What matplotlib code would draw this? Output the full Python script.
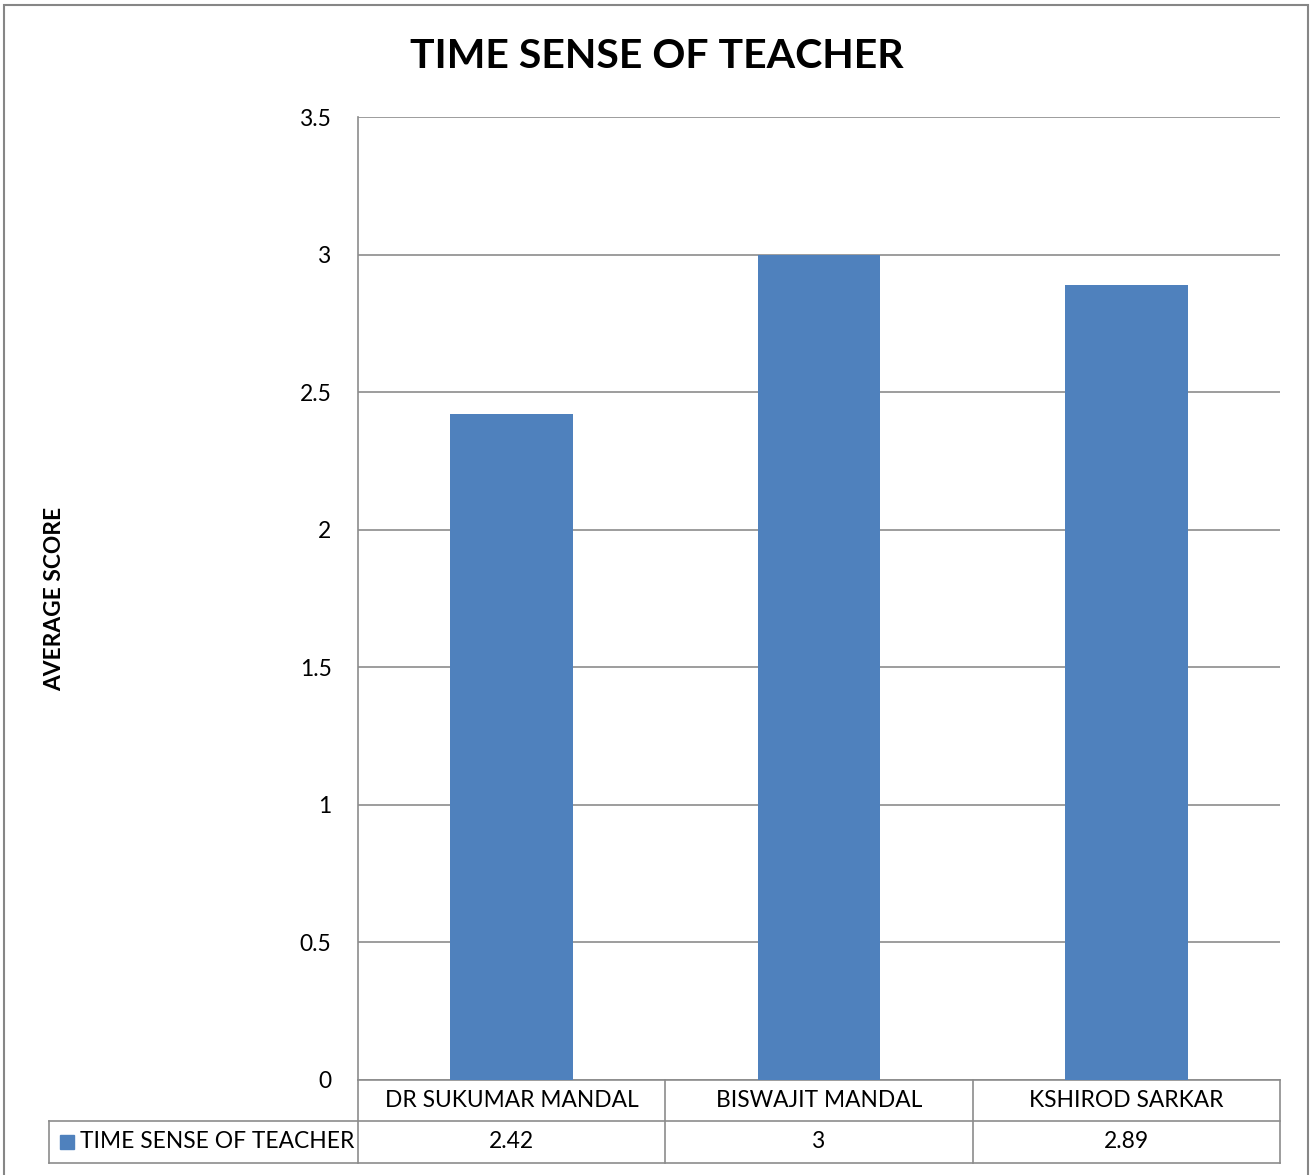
import matplotlib
matplotlib.use("Agg")
import matplotlib.pyplot as plt
from matplotlib.patches import Rectangle
from matplotlib.lines import Line2D
from matplotlib.transforms import blended_transform_factory

# --- Data ---
teachers = ["DR SUKUMAR MANDAL", "BISWAJIT MANDAL", "KSHIROD SARKAR"]
scores = [2.42, 3, 2.89]
score_labels = ["2.42", "3", "2.89"]
series_name = "TIME SENSE OF TEACHER"
y_ticks = [0, 0.5, 1, 1.5, 2, 2.5, 3, 3.5]
y_tick_labels = ["0", "0.5", "1", "1.5", "2", "2.5", "3", "3.5"]

# --- Style ---
BAR_COLOR = "#4F81BD"
GRID_COLOR = "#8C8C8C"
FONT = "Lato"
FS = 16.4
W, H = 1310, 1175

plt.rcParams['font.family'] = [FONT, 'DejaVu Sans']

fig = plt.figure(figsize=(W / 100, H / 100), dpi=100)

# outer chart border
fig.add_artist(Rectangle((4 / W, -0.01), 1304 / W, 1 - 5 / H + 0.01,
                         transform=fig.transFigure, fill=False,
                         edgecolor="#868686", linewidth=1.5))

# plot area in pixel terms
left, right, top, bottom = 358, 1280, 117, 1080
ax = fig.add_axes([left / W, 1 - bottom / H, (right - left) / W, (bottom - top) / H])

x = list(range(len(teachers)))
ax.bar(x, scores, width=0.4, color=BAR_COLOR, zorder=3)
ax.set_xlim(-0.5, len(teachers) - 0.5)
ax.set_ylim(0, 3.5)
ax.set_yticks(y_ticks)
ax.set_yticklabels(y_tick_labels, fontsize=FS)
ax.set_xticks([])
ax.tick_params(axis="y", length=0, pad=19)
ax.yaxis.grid(True, color=GRID_COLOR, linewidth=1.2, zorder=0)
for side in ["top", "right", "bottom"]:
    ax.spines[side].set_visible(False)
ax.spines["left"].set_color(GRID_COLOR)
ax.spines["left"].set_linewidth(1.2)

fig.text(55 / W, 1 - 599 / H, "AVERAGE SCORE", rotation=90, ha="center", va="center",
         fontsize=FS, fontweight="bold")

fig.text(657 / W, 1 - 57 / H, "TIME SENSE OF TEACHER", ha="center", va="center",
         fontsize=29.5, fontweight="bold")

# --- Data table under the axis ---
trans = blended_transform_factory(ax.transData, ax.transAxes)
ph = bottom - top
row1 = -41 / ph
row2 = -83 / ph
legend_left = -(left - 49) / (right - left)
n = len(teachers)
lw = 1.2
# horizontal lines
ax.add_line(Line2D([-0.5, n - 0.5], [0, 0], transform=trans, color=GRID_COLOR,
                   lw=lw, clip_on=False))
ax.add_line(Line2D([legend_left, 1], [row1, row1], transform=ax.transAxes,
                   color=GRID_COLOR, lw=lw, clip_on=False))
ax.add_line(Line2D([legend_left, 1], [row2, row2], transform=ax.transAxes,
                   color=GRID_COLOR, lw=lw, clip_on=False))
# vertical lines
for xb in [i - 0.5 for i in range(n + 1)]:
    ax.add_line(Line2D([xb, xb], [0, row2], transform=trans, color=GRID_COLOR,
                       lw=lw, clip_on=False))
ax.add_line(Line2D([legend_left, legend_left], [row1, row2], transform=ax.transAxes,
                   color=GRID_COLOR, lw=lw, clip_on=False))

for i, (name, lab) in enumerate(zip(teachers, score_labels)):
    ax.text(i, row1 / 2, name, transform=trans, ha="center", va="center", fontsize=FS)
    ax.text(i, (row1 + row2) / 2, lab, transform=trans, ha="center", va="center",
            fontsize=FS)

# legend key cell
key_w = 14 / (right - left)
key_h = 14 / ph
key_x = -(left - 60) / (right - left)
ax.add_patch(Rectangle((key_x, (row1 + row2) / 2 - key_h / 2), key_w, key_h,
                       transform=ax.transAxes, color=BAR_COLOR, clip_on=False))
ax.text(-(left - 80) / (right - left), (row1 + row2) / 2, series_name,
        transform=ax.transAxes, ha="left", va="center", fontsize=FS)

fig.savefig("out.png", dpi=100)
